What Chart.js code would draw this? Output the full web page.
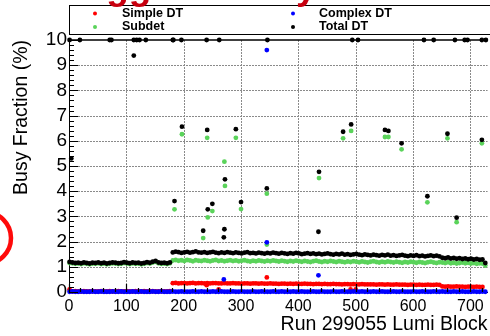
<!DOCTYPE html>
<html>
<head>
<meta charset="utf-8">
<script src="https://cdn.jsdelivr.net/npm/chart.js@4"></script>
<style>
  html, body { margin: 0; padding: 0; background: #fff; }
  canvas { display: block; }
</style>
</head>
<body>
<canvas id="busyChart" width="490" height="336"></canvas>
<script>
// Busy fraction per lumi block, run 299055.
// The steady part of every series is sampled every 5 lumi blocks (1, 6, 11, ...).
const bandLumi = Array.from({ length: 146 }, (_, i) => 1 + 5 * i);

const totalBand = [
    1.19, 1.17, 1.15, 1.16, 1.14, 1.17, 1.15, 1.13, 1.16, 1.15,
    1.17, 1.14, 1.16, 1.13, 1.15, 1.17, 1.16, 1.14, 1.15, 1.18,
    1.16, 1.14, 1.17, 1.15, 1.16, 1.13, 1.15, 1.18, 1.16, 1.20,
    1.23, 1.17, 1.15, 1.16, 1.14, 1.17,
    1.57, 1.60, 1.58, 1.55, 1.57, 1.59, 1.56, 1.58, 1.61, 1.57,
    1.56, 1.58, 1.55, 1.57, 1.59, 1.56, 1.54, 1.57, 1.55, 1.58,
    1.56, 1.54, 1.57, 1.55, 1.53, 1.56, 1.58, 1.54, 1.55, 1.53,
    1.56, 1.54, 1.52, 1.55, 1.53, 1.56, 1.54, 1.52, 1.55, 1.53,
    1.51, 1.54, 1.52, 1.55, 1.53, 1.50, 1.52, 1.54, 1.51, 1.53,
    1.50, 1.52, 1.49, 1.51, 1.53, 1.50, 1.48, 1.51, 1.49, 1.52,
    1.48, 1.50, 1.47, 1.49, 1.51, 1.48, 1.46, 1.49, 1.47, 1.45,
    1.48, 1.46, 1.44, 1.47, 1.45, 1.48, 1.44, 1.46, 1.43, 1.45,
    1.47, 1.44, 1.42, 1.45, 1.43, 1.46, 1.42, 1.44, 1.41, 1.43,
    1.45, 1.42, 1.44, 1.41,
    1.36, 1.34, 1.37, 1.33, 1.35, 1.32, 1.34, 1.31, 1.33, 1.30,
    1.32, 1.29, 1.31, 1.28, 1.29, 1.15
];

const subdetBand = [
    1.15, 1.14, 1.12, 1.13, 1.11, 1.14, 1.12, 1.10, 1.13, 1.12,
    1.14, 1.11, 1.13, 1.10, 1.12, 1.14, 1.13, 1.11, 1.12, 1.15,
    1.13, 1.11, 1.14, 1.12, 1.13, 1.10, 1.12, 1.15, 1.13, 1.17,
    1.20, 1.14, 1.12, 1.13, 1.11, 1.14,
    1.25, 1.27, 1.24, 1.26, 1.23, 1.27, 1.25, 1.22, 1.26, 1.24,
    1.23, 1.26, 1.24, 1.22, 1.25, 1.27, 1.23, 1.25, 1.22, 1.24,
    1.26, 1.23, 1.25, 1.22, 1.24, 1.26, 1.23, 1.21, 1.24, 1.22,
    1.25, 1.23, 1.21, 1.24, 1.22, 1.25, 1.23, 1.21, 1.24, 1.22,
    1.20, 1.23, 1.21, 1.24, 1.22, 1.20, 1.23, 1.21, 1.19, 1.22,
    1.24, 1.21, 1.19, 1.22, 1.20, 1.23, 1.21, 1.19, 1.22, 1.20,
    1.18, 1.21, 1.19, 1.22, 1.20, 1.18, 1.21, 1.19, 1.17, 1.20,
    1.22, 1.19, 1.17, 1.20, 1.18, 1.21, 1.19, 1.17, 1.20, 1.18,
    1.16, 1.19, 1.17, 1.20, 1.18, 1.16, 1.19, 1.17, 1.15, 1.18,
    1.20, 1.17, 1.15, 1.18,
    1.17, 1.15, 1.18, 1.14, 1.16, 1.13, 1.15, 1.17, 1.14, 1.16,
    1.13, 1.15, 1.12, 1.14, 1.13, 1.05
];

const simpleBand = [
    0.10, 0.02, 0.03, 0.02, 0.02, 0.03, 0.02, 0.02, 0.03, 0.02,
    0.02, 0.03, 0.02, 0.02, 0.03, 0.02, 0.02, 0.03, 0.02, 0.02,
    0.03, 0.02, 0.02, 0.03, 0.02, 0.02, 0.03, 0.02, 0.02, 0.03,
    0.02, 0.02, 0.03, 0.02, 0.02, 0.03,
    0.35, 0.36, 0.34, 0.35, 0.35, 0.34, 0.35, 0.36, 0.34, 0.35,
    0.35, 0.34, 0.35, 0.34, 0.35, 0.35, 0.34, 0.34, 0.35, 0.34,
    0.34, 0.35, 0.34, 0.34, 0.33, 0.34, 0.34, 0.33, 0.34, 0.34,
    0.33, 0.34, 0.33, 0.33, 0.34, 0.33, 0.33, 0.32, 0.33, 0.33,
    0.32, 0.33, 0.32, 0.33, 0.32, 0.32, 0.33, 0.32, 0.32, 0.31,
    0.32, 0.32, 0.31, 0.32, 0.31, 0.31, 0.32, 0.31, 0.31, 0.30,
    0.31, 0.31, 0.30, 0.31, 0.30, 0.30, 0.31, 0.30, 0.30, 0.30,
    0.30, 0.29, 0.30, 0.30, 0.29, 0.30, 0.29, 0.29, 0.30, 0.29,
    0.29, 0.29, 0.28, 0.29, 0.29, 0.28, 0.29, 0.28, 0.28, 0.29,
    0.28, 0.28, 0.29, 0.28,
    0.22, 0.21, 0.22, 0.21, 0.21, 0.22, 0.21, 0.21, 0.20, 0.21,
    0.21, 0.20, 0.21, 0.20, 0.20
];

const complexBand = [
    0.01, 0.02, 0.01, 0.01, 0.02, 0.01, 0.01, 0.01, 0.02, 0.01,
    0.01, 0.02, 0.01, 0.01, 0.01, 0.02, 0.01, 0.01, 0.02, 0.01,
    0.01, 0.01, 0.02, 0.01, 0.01, 0.02, 0.01, 0.01, 0.01, 0.02,
    0.01, 0.01, 0.02, 0.01, 0.01, 0.01, 0.02, 0.01, 0.01, 0.02,
    0.01, 0.01, 0.01, 0.02, 0.01, 0.01, 0.02, 0.01, 0.01, 0.01,
    0.02, 0.01, 0.01, 0.02, 0.01, 0.01, 0.01, 0.02, 0.01, 0.01,
    0.02, 0.01, 0.01, 0.01, 0.02, 0.01, 0.01, 0.02, 0.01, 0.01,
    0.01, 0.02, 0.01, 0.01, 0.02, 0.01, 0.01, 0.01, 0.02, 0.01,
    0.01, 0.02, 0.01, 0.01, 0.01, 0.02, 0.01, 0.01, 0.02, 0.01,
    0.01, 0.01, 0.02, 0.01, 0.01, 0.02, 0.01, 0.01, 0.01, 0.02,
    0.01, 0.01, 0.02, 0.01, 0.01, 0.01, 0.02, 0.01, 0.01, 0.02,
    0.01, 0.01, 0.01, 0.02, 0.01, 0.01, 0.02, 0.01, 0.01, 0.01,
    0.02, 0.01, 0.01, 0.02, 0.01, 0.01, 0.01, 0.02, 0.01, 0.01,
    0.02, 0.01, 0.01, 0.01, 0.02, 0.01, 0.01, 0.02, 0.01, 0.01,
    0.01, 0.02, 0.01, 0.01, 0.02, 0.01
];

// Isolated lumi blocks that stick out of the bands
const totalSpikeLumi = [
    1, 19, 71, 74, 113, 118, 123, 134, 181, 182, 196, 240,
    262, 346, 494, 504, 619, 636, 673, 690, 695, 720, 727,
    4, 113, 184, 197, 234, 241, 242, 250, 270, 271, 272, 291,
    300, 345, 435, 436, 478, 492, 551, 557, 580, 625, 660, 676, 720
];
const totalSpikeValue = [
    10, 10, 10, 10, 10, 10, 10, 10, 10, 10, 10, 10,
    10, 10, 10, 10, 10, 10, 10, 10, 10, 10, 10,
    5.30, 9.38, 3.61, 6.56, 2.43, 6.43, 3.28, 3.50, 2.17, 2.49, 4.47, 6.46,
    3.57, 4.11, 2.39, 4.77, 6.36, 6.65, 6.43, 6.39, 5.90, 3.80, 6.28, 2.95, 6.04
];

const subdetSpikeLumi = [
    184, 197, 234, 241, 242, 250, 271, 272, 291, 300, 345,
    345, 436, 478, 492, 551, 557, 580, 625, 660, 676, 720
];
const subdetSpikeValue = [
    3.28, 6.26, 2.14, 6.12, 2.96, 3.21, 5.17, 4.21, 6.12, 3.29, 3.90,
    1.88, 4.52, 6.10, 6.39, 6.15, 6.15, 5.66, 3.56, 6.10, 2.77, 5.90
];

const complexSpikeLumi = [270, 345, 345, 435];
const complexSpikeValue = [0.50, 1.97, 9.60, 0.66];

const simpleSpikeLumi = [240, 261, 345, 491, 500];
const simpleSpikeValue = [0.27, 0.10, 0.58, 0.10, 0.10];

const seriesNames = ['Simple DT', 'Complex DT', 'Subdet', 'Total DT'];
const seriesColors = ['#ff0000', '#0000ff', '#5ad35a', '#000000'];

const xRange = [0, 730];
const yRange = [0, 10];

const xTitle = 'Run 299055 Lumi Block';
const yTitle = 'Busy Fraction (%)';

const FONT = "'Liberation Sans', Arial, Helvetica, sans-serif";

function buildPoints(band, spikeLumi, spikeValue) {
    const pts = band.map((v, i) => ({ x: bandLumi[i], y: v }));
    spikeLumi.forEach((l, i) => pts.push({ x: l, y: spikeValue[i] }));
    return pts;
}

function makeDataset(idx, points, order) {
    return {
        label: seriesNames[idx],
        data: points,
        backgroundColor: seriesColors[idx],
        borderWidth: 0,
        pointRadius: 2.4,
        pointHoverRadius: 2.4,
        clip: false,
        order: order
    };
}

// frame decoration, legend box and the red marks, painted once the chart is done
const rootStyle = {
    id: 'rootStyle',
    afterDraw(chart) {
        const { ctx, chartArea: a } = chart;
        const w = a.right - a.left;
        const h = a.bottom - a.top;
        const xPix = v => a.left + (v - xRange[0]) / (xRange[1] - xRange[0]) * w;
        const yPix = v => a.bottom - (v - yRange[0]) / (yRange[1] - yRange[0]) * h;
        ctx.save();

        // dotted grid, slipped underneath whatever is already painted
        ctx.globalCompositeOperation = 'destination-over';
        ctx.strokeStyle = '#8a8a8a';
        ctx.lineWidth = 1;
        ctx.setLineDash([2, 1]);
        ctx.beginPath();
        for (let v = 100; v < xRange[1]; v += 100) {
            const px = Math.round(xPix(v)) + 0.5;
            ctx.moveTo(px, a.top);
            ctx.lineTo(px, a.bottom);
        }
        for (let v = 1; v < yRange[1]; v++) {
            const py = Math.round(yPix(v)) + 0.5;
            ctx.moveTo(a.left, py);
            ctx.lineTo(a.right, py);
        }
        ctx.stroke();
        ctx.setLineDash([]);
        ctx.globalCompositeOperation = 'source-over';

        // inward ticks: major every unit / 100 lumi blocks, minor in between
        ctx.strokeStyle = '#000';
        ctx.lineWidth = 1.2;
        ctx.beginPath();
        for (let k = 0; k <= 50; k++) {
            const py = Math.round(yPix(k * 0.2)) + 0.5;
            const len = k % 5 === 0 ? 9 : 5;
            ctx.moveTo(a.left, py);
            ctx.lineTo(a.left + len, py);
        }
        for (let v = 0; v <= 720; v += 20) {
            const px = Math.round(xPix(v)) + 0.5;
            const len = v % 100 === 0 ? 8 : 4;
            ctx.moveTo(px, a.bottom);
            ctx.lineTo(px, a.bottom - len);
        }
        ctx.stroke();

        // top edge of the frame
        ctx.lineWidth = 1.5;
        ctx.beginPath();
        ctx.moveTo(a.left, a.top);
        ctx.lineTo(a.right, a.top);
        ctx.stroke();

        // legend box
        ctx.fillStyle = '#fff';
        ctx.fillRect(69, 5, 430, 29);
        ctx.lineWidth = 1;
        ctx.strokeRect(69.5, 5.5, 430, 29);

        const entries = [
            { i: 0, mx: 95, tx: 122, y: 13.5 },
            { i: 2, mx: 95, tx: 122, y: 27 },
            { i: 1, mx: 293, tx: 319, y: 13.5 },
            { i: 3, mx: 293, tx: 319, y: 27 }
        ];
        ctx.font = 'bold 12.5px ' + FONT;
        ctx.textBaseline = 'middle';
        ctx.textAlign = 'left';
        entries.forEach(e => {
            ctx.fillStyle = seriesColors[e.i];
            ctx.beginPath();
            ctx.arc(e.mx, e.y, 2, 0, Math.PI * 2);
            ctx.fill();
            ctx.fillStyle = '#000';
            ctx.fillText(seriesNames[e.i], e.tx, e.y);
        });

        // red heading running off the top edge
        ctx.fillStyle = '#c8000f';
        ctx.font = 'bold 37px ' + FONT;
        ctx.textBaseline = 'alphabetic';
        ctx.fillText('Trigger', 61, -1);
        ctx.fillText('Busy', 226, -1);

        // red ring at the left edge
        ctx.strokeStyle = '#ff0a0a';
        ctx.lineWidth = 4.5;
        ctx.beginPath();
        ctx.arc(-15, 238, 26, 0, Math.PI * 2);
        ctx.stroke();

        ctx.restore();
    }
};

document.addEventListener('DOMContentLoaded', function() {
    Chart.defaults.font.family = FONT;
    Chart.defaults.color = '#000';

    const ctx = document.getElementById('busyChart').getContext('2d');
    new Chart(ctx, {
        type: 'scatter',
        data: {
            datasets: [
                makeDataset(0, buildPoints(simpleBand, simpleSpikeLumi, simpleSpikeValue), 3),
                makeDataset(1, buildPoints(complexBand, complexSpikeLumi, complexSpikeValue), 1),
                makeDataset(2, buildPoints(subdetBand, subdetSpikeLumi, subdetSpikeValue), 2),
                makeDataset(3, buildPoints(totalBand, totalSpikeLumi, totalSpikeValue), 0)
            ]
        },
        options: {
            responsive: false,
            animation: false,
            events: [],
            layout: { padding: { top: 40, right: 1, left: 0, bottom: 0 } },
            plugins: {
                legend: { display: false },
                tooltip: { enabled: false }
            },
            scales: {
                x: {
                    type: 'linear',
                    min: xRange[0],
                    max: xRange[1],
                    afterFit: s => {
                        s.height = 44;
                        s.paddingLeft = 0;
                        s.paddingRight = 0;
                    },
                    ticks: {
                        stepSize: 100,
                        includeBounds: false,
                        autoSkip: false,
                        maxRotation: 0,
                        padding: 5,
                        font: { size: 16 }
                    },
                    grid: { display: false, drawTicks: false },
                    border: { display: true, color: '#000', width: 1 },
                    title: {
                        display: true,
                        text: xTitle,
                        align: 'end',
                        font: { size: 19.5 },
                        padding: { top: 0, bottom: 0 }
                    }
                },
                y: {
                    min: yRange[0],
                    max: yRange[1],
                    afterFit: s => {
                        s.width = 69;
                        s.paddingTop = 0;
                        s.paddingBottom = 0;
                    },
                    ticks: {
                        stepSize: 1,
                        autoSkip: false,
                        padding: 2,
                        font: { size: 19 }
                    },
                    grid: { display: false, drawTicks: false },
                    border: { display: true, color: '#000', width: 1 },
                    title: {
                        display: true,
                        text: yTitle,
                        align: 'end',
                        font: { size: 19.5 },
                        padding: { top: 10, bottom: 0 }
                    }
                }
            }
        },
        plugins: [rootStyle]
    });
});
</script>
</body>
</html>
